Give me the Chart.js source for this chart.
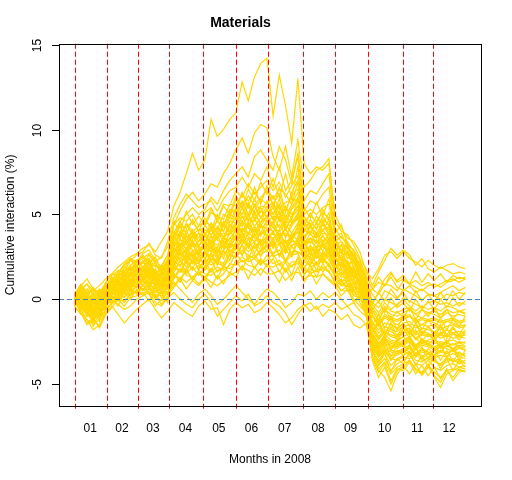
<!DOCTYPE html>
<html>
<head>
<meta charset="utf-8">
<script src="https://cdn.jsdelivr.net/npm/chart.js@4.4.1/dist/chart.umd.min.js"></script>
<style>
  html, body { margin: 0; padding: 0; background: #fff; }
  #wrap { width: 512px; height: 480px; }
</style>
</head>
<body>
<div id="wrap"><canvas id="chart" width="512" height="480"></canvas></div>
<script>
// trading-day index of each sample (every 4th session of 2008)
const days = [1,5,9,13,17,21,25,29,33,37,41,45,49,53,57,61,65,69,73,77,81,85,89,93,97,101,105,109,113,117,121,125,
  129,133,137,141,145,149,153,157,161,165,169,173,177,181,185,189,193,197,201,205,209,213,217,221,225,229,233,237,241,245,249,253];

// first session of each month (red dashed lines) and month label positions
const monthStarts = [1,22,42,62,84,105,126,148,169,190,213,232];
const monthMids = [11,31.5,51.5,72.5,94,115,136.5,158,179,201,222,242.5];
const monthLabels = ['01','02','03','04','05','06','07','08','09','10','11','12'];
const yTicks = [-5,0,5,10,15];

// cumulative interaction (%) per stock
const top1 = [0,0.6,0.9,0.5,0.8,1.2, 1.5,1.9,2.2,2.5,2.7, 3.0,3.2,2.8,3.4,4.0, 5.5,6.3,7.4,8.6,7.6, 8.2,10.6,9.6,10.0,10.6, 11.0,12.8,11.7,13.1,13.9,14.2, 10.8,13.2,11.4,9.2,13.0, 8.0,7.4,7.8,7.6,8.0, 5.0,4.2,3.6,3.4,2.8,1.6, 1.2,1.8,2.6,2.8,2.4, 2.8,2.4,2.2,1.9,2.3, 2.0,1.8,2.0,2.1,1.9,1.8];
const top2 = [0,0.3,0.1,-0.2,0.2,0.7, 1.0,1.4,1.6,2.0,2.3, 2.4,2.7,2.2,2.5,3.1, 4.4,5.2,5.9,6.3,5.8, 6.2,6.8,6.6,7.4,8.0, 8.8,9.5,8.6,9.8,10.3,10.1, 8.4,7.6,9.0,7.2,9.4, 6.6,7.0,7.6,7.8,8.3, 4.6,4.0,3.8,3.2,2.4,1.8, 0.8,1.6,2.3,3.0,2.6, 2.9,2.6,2.0,2.4,1.8, 1.6,1.9,1.7,1.5,1.6,1.5];
const top3 = [0,0.4,0.0,-0.3,0.1,0.5, 0.9,1.1,1.5,1.8,2.0, 2.2,2.4,1.9,2.0,2.6, 3.9,4.6,5.0,5.4,5.0, 5.3,6.0,5.6,6.4,7.0, 7.4,7.8,7.2,8.4,8.8,8.2, 7.6,9.0,8.2,6.8,8.6, 5.8,6.4,6.2,6.8,7.4, 4.2,3.6,3.4,2.8,2.0,1.2, -0.2,0.4,1.2,1.6,1.0, 1.2,0.9,1.1,0.8,1.0, 0.7,0.9,1.1,1.2,1.0,1.2];
const top4 = [0,0.8,1.2,0.6,0.4,0.9, 1.2,1.6,2.0,2.3,2.6, 2.8,3.3,2.6,2.4,3.4, 4.8,5.6,6.2,5.8,5.4, 5.6,5.8,5.2,5.9,6.4, 6.6,7.2,6.6,7.4,7.0,7.8, 6.6,7.8,6.4,7.0,8.4, 5.2,5.8,5.6,6.2,6.6, 3.8,3.4,3.0,2.6,1.8,1.4, 0.6,1.0,0.8,1.3,0.7, 0.5,0.8,0.4,0.6,0.3, 0.2,0.4,0.6,0.8,0.5,0.7];
const low1 = [0,-0.6,-1.2,-1.8,-1.5,-0.8, -0.4,-0.9,-1.4,-1.0,-0.6, -0.3,0.0,-0.6,-1.1,-0.7, -0.2,-0.5,-0.8,-1.0,-0.4, -0.1,-0.6,-0.5,-1.5,-0.6, -0.2,-0.5,-0.3,-0.8,-0.6,-0.2, -0.5,-0.9,-1.4,-1.1,-0.6, -0.3,-0.7,-0.4,-1.0,-0.6, -0.8,-1.2,-0.9,-1.5,-1.7,-1.4, -3.4,-4.2,-4.6,-5.4,-4.4, -4.0,-3.6,-4.2,-4.4,-3.8, -4.6,-5.2,-4.4,-4.2,-4.0,-4.1];
const low2 = [0,-0.3,-0.8,-1.4,-1.0,-0.4, 0.0,-0.3,-0.6,-0.4,0.0, 0.2,0.4,-0.2,-0.4,0.1, 0.4,0.0,-0.3,-0.5,0.0, 0.3,-0.2,-1.0,-0.6,-0.2, 0.2,-0.1,0.3,-0.4,-0.2,0.2, -0.2,-0.4,-0.8,-1.5,-0.9, -0.4,-0.2,-0.6,-0.3,-0.5, -0.2,-0.6,-0.4,-0.9,-1.1,-1.5, -2.8,-3.4,-3.0,-3.6,-3.2, -3.0,-3.3,-2.9,-3.5,-3.2, -3.6,-3.9,-3.4,-3.7,-3.5,-3.8];
const low3 = [0,-0.8,-1.5,-1.2,-1.6,-0.6, -0.2,0.2,-0.2,0.3,0.5, 0.6,0.3,-0.4,0.0,0.4, 1.0,0.6,0.2,-0.2,0.3, 0.6,0.2,-0.3,0.0,0.4, 0.8,0.4,0.0,-0.3,0.2,0.6, 0.4,0.0,-0.5,-0.2,0.3, 0.2,0.5,0.0,0.4,0.1, 0.4,0.0,-0.4,-0.2,-0.7,-1.0, -2.0,-2.6,-2.2,-2.9,-2.4, -2.2,-2.6,-2.8,-2.4,-2.7, -2.9,-3.1,-2.7,-3.0,-2.8,-3.0];
const mid01 = [0.3,0.9,0.4,0.5,0.3,1.0, 1.5,1.4,2.1,2.4,2.2, 2.7,2.9,2.3,1.9,2.6, 4.4,4.8,4.6,5.0,4.3, 5.1,5.4,4.7,5.6,5.5, 6.4,6.0,6.8,6.2,6.6,7.0, 6.4,6.9,6.0,6.7,7.3, 5.0,5.3,5.0,5.4,5.6, 3.7,3.9,3.0,2.7,2.0,1.2, -0.3,-0.8,-0.2,-0.6,-0.3, 0.0,-0.4,-0.7,-0.4,-0.6, -0.5,-0.7,-0.4,-0.5,-0.7,-0.6];
const mid02 = [0.2,0.4,0.6,-0.1,0.5,0.6, 1.4,1.7,1.6,2.3,2.0, 2.1,2.6,2.1,1.7,2.3, 3.7,4.4,4.2,4.6,4.0, 4.3,5.1,4.9,4.7,5.6, 5.5,6.2,5.8,6.3,5.7,6.6, 5.9,6.5,6.2,5.6,6.9, 4.6,4.9,4.6,5.1,4.8, 3.4,3.7,3.2,2.4,2.2,1.0, -1.0,-1.6,-1.1,-1.3,-1.5, -1.2,-1.0,-1.3,-1.5,-1.2, -1.4,-1.6,-1.3,-1.4,-1.6,-1.5];
const mid03 = [0.1,0.7,0.1,0.2,-0.1,0.8, 0.9,1.5,1.4,2.0,2.3, 1.9,2.4,1.5,1.9,1.8, 3.9,3.6,4.4,3.8,4.1, 3.9,4.2,4.6,4.3,5.2, 5.1,5.8,5.4,5.2,5.9,5.6, 6.1,5.3,5.7,5.9,5.8, 4.3,4.5,4.2,4.7,4.4, 3.6,2.9,2.9,2.1,1.6,0.6, -2.0,-2.6,-2.1,-2.4,-2.5, -2.2,-2.0,-2.3,-2.6,-2.4, -2.3,-2.7,-2.5,-2.4,-2.6,-2.5];
const mid04 = [0.3,0.2,0.4,-0.3,0.2,0.3, 1.1,1.0,1.6,1.5,2.0, 2.2,1.8,1.7,1.4,2.0, 3.1,3.8,3.6,3.9,3.4, 4.1,3.8,4.2,4.0,4.8, 4.7,5.4,4.9,5.5,4.8,5.2, 5.0,5.6,4.6,5.4,6.0, 4.0,4.3,3.9,4.4,4.1, 3.3,2.7,2.7,1.9,1.8,0.9, 0.3,-0.2,0.5,0.3,0.0, 0.6,0.4,0.2,-0.1,0.3, 0.2,0.0,0.3,0.2,0.4,0.3];
const mid05 = [-0.1,0.5,-0.2,0.0,-0.3,0.6, 0.7,1.3,1.1,1.8,1.6, 1.7,2.1,1.2,1.6,1.5, 3.4,3.1,3.3,3.7,3.2, 3.4,4.1,3.5,4.3,4.1, 4.5,5.1,4.7,4.6,5.2,4.9, 5.4,4.6,4.9,4.5,5.1, 3.7,4.0,3.7,4.1,4.3, 2.6,2.9,2.1,2.2,1.2,0.4, -2.5,-3.2,-2.7,-3.0,-3.1, -2.9,-2.7,-3.2,-2.9,-3.1, -3.3,-3.0,-3.2,-3.0,-3.3,-3.2];
const mid06 = [0.2,0.0,0.2,-0.5,0.1,0.2, 0.9,0.8,1.4,1.3,1.8, 1.9,1.6,1.5,1.1,1.7, 2.8,3.5,3.2,3.1,3.4, 3.7,3.4,3.2,3.6,4.3, 4.8,4.3,5.0,4.3,4.8,4.6, 4.5,4.9,4.1,4.8,5.3, 3.5,3.3,3.9,3.4,3.6, 2.9,2.4,2.3,1.6,1.4,0.2, -1.6,-2.2,-1.8,-1.9,-2.1, -1.8,-1.7,-2.1,-1.9,-2.0, -2.2,-2.0,-1.8,-2.0,-2.2,-2.1];
const mid07 = [-0.2,0.3,-0.4,-0.2,-0.4,0.4, 0.5,1.1,0.9,1.5,1.3, 1.4,1.8,1.0,1.3,1.2, 3.0,2.7,3.5,2.9,2.8, 3.0,3.7,3.5,3.3,3.6, 4.0,4.6,4.2,4.0,4.5,4.9, 4.2,4.0,4.4,3.9,4.5, 3.2,3.6,3.3,3.7,3.3, 2.2,2.6,1.8,1.9,0.9,0.0, -2.9,-3.7,-3.2,-3.9,-3.5, -3.3,-3.1,-3.6,-3.7,-3.4, -3.6,-3.9,-3.7,-3.5,-3.8,-3.7];
const mid08 = [0.1,-0.2,0.0,-0.7,-0.1,0.0, 0.7,0.6,1.2,1.0,1.5, 1.3,1.6,1.3,0.9,1.4, 2.4,3.1,2.8,3.2,2.6, 3.3,3.0,2.8,3.6,3.4, 3.8,4.2,3.9,4.3,3.8,4.1, 4.5,3.7,4.1,3.6,4.2, 3.0,2.9,3.1,3.5,3.1, 2.5,2.0,2.0,1.3,1.1,0.5, -0.7,-1.2,-0.6,-0.9,-1.0, -0.8,-0.6,-0.9,-1.1,-0.8, -0.9,-1.1,-0.8,-1.0,-0.9,-1.0];
const mid09 = [0.0,0.2,-0.5,-0.4,-0.6,0.3, 0.4,0.9,0.7,1.2,1.1, 1.5,1.2,0.8,1.1,1.0, 2.6,2.4,3.0,2.5,2.8, 2.6,3.2,2.5,2.9,3.6, 3.5,3.9,3.7,3.4,3.9,3.8, 3.6,3.9,3.3,3.8,3.9, 2.8,3.1,2.8,3.2,2.9, 1.9,2.2,1.5,1.6,0.6,0.3, -2.2,-2.8,-2.4,-2.6,-2.7, -2.5,-2.3,-2.8,-2.5,-2.6, -2.8,-2.6,-2.7,-2.9,-2.7,-2.8];
const mid10 = [-0.3,-0.3,-0.2,-0.9,-0.3,-0.1, 0.6,0.4,1.0,0.8,1.3, 1.1,1.4,1.0,0.7,1.2, 2.0,2.7,2.4,2.7,2.2, 2.8,2.5,2.8,2.6,3.0, 3.7,3.2,3.9,3.6,3.2,3.5, 3.9,3.2,3.5,3.1,3.6, 2.6,2.5,3.0,2.6,3.1, 2.1,1.7,1.6,1.0,0.8,-0.2, -1.3,-1.8,-1.4,-1.5,-1.7, -1.4,-1.3,-1.7,-1.5,-1.6, -1.5,-1.8,-1.6,-1.5,-1.7,-1.6];
const mid11 = [0.1,0.1,-0.7,-0.6,-0.8,0.1, 0.2,0.7,0.5,1.0,0.9, 1.3,0.9,0.6,0.9,0.8, 2.2,2.0,2.6,2.1,2.4, 2.1,2.7,2.1,2.8,2.7, 3.0,3.4,3.1,3.4,2.9,3.6, 3.1,3.3,2.7,3.2,3.3, 2.4,2.7,2.4,2.7,2.5, 1.5,1.8,1.1,1.2,0.3,-0.4, -3.1,-3.9,-3.5,-4.2,-3.8, -3.6,-3.3,-3.8,-3.9,-3.6, -4.0,-4.2,-3.9,-3.8,-4.0,-3.9];
const mid12 = [-0.2,-0.5,-0.4,-1.1,-0.5,-0.3, 0.4,0.2,0.8,0.6,1.1, 0.8,1.2,0.8,0.5,1.0, 1.6,2.3,1.9,2.3,1.8, 2.4,2.0,2.3,2.1,2.9, 2.7,3.2,2.8,3.1,2.6,2.9, 3.3,2.6,2.9,2.5,3.4, 2.2,2.0,2.6,2.1,2.7, 1.7,1.3,1.3,0.7,0.6,-0.1, -1.8,-2.4,-1.9,-2.2,-2.3, -2.0,-1.9,-2.4,-2.1,-2.2, -2.0,-2.3,-2.1,-2.3,-2.2,-2.3];
const mid13 = [-0.4,-0.1,-0.9,-0.8,-1.0,-0.1, 0.0,0.5,0.3,0.8,0.7, 1.1,0.7,0.4,0.7,0.6, 1.9,1.6,2.2,1.7,2.0, 1.7,2.3,1.6,1.9,2.6, 2.5,2.9,2.6,2.4,2.8,3.1, 2.5,2.7,2.2,2.6,2.7, 1.9,2.2,2.0,2.3,2.0, 1.5,1.1,1.1,0.5,0.4,-0.2, -0.2,-0.5,0.0,-0.2,-0.4, 0.1,-0.1,-0.3,-0.5,-0.2, -0.1,-0.3,-0.2,-0.4,-0.2,-0.3];
const mid14 = [0.0,-0.6,-0.6,-1.3,-0.7,-0.5, 0.2,0.0,0.6,0.3,0.9, 0.6,0.9,0.5,0.2,0.7, 1.3,1.8,1.5,1.9,1.4, 1.9,1.6,1.9,1.7,2.0, 2.7,2.2,2.4,2.6,2.1,2.3, 2.7,2.0,2.3,1.9,2.4, 1.7,1.6,2.2,1.6,2.1, 1.3,0.9,0.9,0.4,0.2,-0.7, -2.3,-3.0,-2.6,-2.8,-2.9, -2.7,-2.5,-3.0,-2.7,-2.8, -3.0,-2.8,-2.9,-3.1,-2.9,-3.0];
const mid15 = [-0.3,-0.2,-1.0,-0.9,-1.1,-0.2, -0.2,0.3,0.1,0.5,0.4, 0.8,0.4,0.1,0.4,0.3, 1.5,1.2,1.7,1.2,1.6, 1.3,1.8,1.2,1.5,2.1, 2.0,2.3,2.0,1.9,2.3,2.0, 1.9,2.1,1.6,2.0,2.1, 1.5,1.8,1.6,1.8,1.6, 1.1,0.8,0.8,0.2,0.1,-0.5, -1.4,-2.0,-1.6,-1.8,-1.9, -1.6,-1.5,-2.0,-1.7,-1.8, -1.9,-2.1,-1.8,-2.0,-1.9,-2.0];
const mid16 = [-0.5,-0.8,-1.2,-1.5,-1.2,-0.6, -0.3,0.1,-0.1,0.3,0.5, 0.3,0.6,0.2,-0.1,0.4, 0.8,1.3,1.0,1.3,0.9, 1.3,1.0,0.8,1.1,1.4, 1.6,1.9,1.7,1.4,1.8,1.5, 1.5,1.7,1.1,1.5,1.6, 1.2,1.4,1.3,1.5,1.2, 0.9,0.5,0.5,0.0,-0.4,-0.8, -2.7,-3.4,-3.0,-3.3,-3.3, -3.1,-2.9,-3.4,-3.1,-3.2, -3.5,-3.3,-3.4,-3.2,-3.4,-3.5];
const mid17 = [0.4,0.3,0.6,0.3,0.0,0.9, 1.0,1.2,1.9,1.7,2.3, 2.5,2.0,2.0,1.6,2.2, 4.0,3.7,4.5,4.0,4.3, 4.6,4.3,4.1,5.0,4.8, 5.9,5.3,6.1,5.5,6.0,6.4, 5.6,6.2,5.2,6.1,6.5, 4.9,4.2,4.9,4.4,5.1, 3.2,3.4,2.6,2.6,1.7,1.3, -1.7,-2.3,-1.9,-2.1,-2.2, -1.9,-1.8,-2.3,-2.0,-2.1, -2.3,-2.1,-2.2,-2.0,-2.2,-2.1];
const mid18 = [0.0,0.6,0.0,0.1,0.3,0.4, 1.2,1.1,1.3,1.9,1.8, 1.8,2.3,1.4,1.8,1.6, 3.3,4.0,3.7,3.6,3.9, 3.7,4.5,3.9,4.6,4.5, 5.4,5.0,5.7,5.0,5.5,5.4, 5.7,5.0,5.4,5.0,5.5, 4.6,3.9,4.5,4.0,4.7, 2.9,3.2,2.4,2.4,1.4,0.7, -0.5,-1.0,-0.4,-0.7,-0.8, -0.6,-0.5,-0.9,-0.6,-0.8, -0.7,-0.9,-0.6,-0.8,-0.7,-0.8];
const mid19 = [0.2,0.1,-0.2,-0.1,0.1,0.2, 0.6,1.2,1.1,1.4,1.9, 1.6,1.7,1.6,1.3,1.9, 3.3,3.0,3.8,3.3,3.1, 3.8,3.6,3.9,3.7,3.9, 4.4,4.9,4.6,5.0,4.5,5.3, 4.7,5.1,4.3,4.4,4.9, 4.1,3.8,3.6,3.9,3.8, 2.5,2.8,2.0,1.7,1.5,0.8, -2.1,-2.7,-2.3,-2.5,-2.6, -2.4,-2.2,-2.7,-2.4,-2.5, -2.6,-2.5,-2.6,-2.7,-2.5,-2.6];
const mid20 = [-0.1,0.4,0.1,-0.5,-0.2,0.5, 0.8,0.8,1.0,1.6,1.4, 1.9,1.5,1.1,1.5,1.3, 2.7,3.3,3.0,3.4,3.0, 3.1,3.3,3.6,3.9,3.8, 4.2,4.1,4.4,4.7,4.2,4.5, 4.9,4.2,4.5,4.6,4.7, 3.4,3.6,3.4,3.3,3.9, 2.7,2.3,2.2,1.5,1.0,0.3, -0.9,-1.4,-0.9,-1.1,-1.2, -1.0,-0.9,-1.3,-1.1,-1.2, -1.1,-1.3,-1.2,-1.1,-1.3,-1.2];
const mid21 = [0.3,-0.1,-0.3,-0.3,-0.5,0.1, 0.5,1.0,0.9,1.1,1.6, 1.4,1.4,1.3,1.0,1.5, 2.9,2.6,2.9,3.3,3.1, 2.9,3.5,2.9,3.2,3.9, 4.4,3.9,4.6,3.9,4.3,4.2, 4.0,4.4,3.7,4.3,4.8, 3.2,3.4,3.1,3.2,3.4, 2.2,2.4,1.7,1.4,1.2,0.1, -2.6,-3.3,-2.9,-3.1,-3.2, -3.0,-2.8,-3.3,-3.0,-3.1, -3.4,-3.1,-3.2,-3.0,-3.2,-3.3];
const mid22 = [-0.2,0.3,0.0,-0.8,-0.2,0.3, 0.3,0.6,1.1,0.9,1.2, 1.7,1.6,0.9,1.2,1.1, 2.3,2.9,2.7,2.6,2.9, 3.1,2.8,3.1,3.4,3.2, 3.6,4.1,3.8,4.1,3.7,4.4, 4.3,3.6,3.9,3.5,4.0, 3.4,2.8,3.0,3.3,3.0, 2.4,1.9,1.9,1.2,0.7,0.4, 0.6,0.3,0.9,0.8,0.5, 1.1,0.9,0.7,0.5,0.8, 0.9,0.7,1.0,1.1,1.3,1.2];
const mid23 = [0.1,-0.3,-0.1,-0.8,-0.2,-0.1, 0.6,0.5,0.6,1.2,1.0, 1.2,1.5,1.1,0.8,0.9, 2.5,2.3,2.5,2.8,2.7, 2.4,2.7,2.9,3.2,3.0, 3.3,3.8,3.5,3.8,3.4,3.6, 4.0,3.4,3.1,3.7,4.2, 2.7,3.0,2.7,3.1,2.8, 1.8,2.1,1.3,1.4,0.9,-0.1, -2.2,-2.9,-2.5,-2.7,-2.8, -2.6,-2.4,-2.9,-2.6,-2.7, -2.9,-2.7,-2.8,-2.6,-2.8,-2.9];
const mid24 = [-0.3,0.1,-0.6,-0.5,-0.7,0.2, 0.2,0.7,0.9,0.7,1.3, 1.0,1.0,0.9,0.6,1.2, 1.9,2.5,2.2,2.6,2.1, 2.7,2.4,2.2,2.9,3.3, 3.1,3.5,3.3,3.0,3.5,3.3, 3.2,3.5,2.9,3.4,3.4, 2.9,2.3,2.9,2.4,3.0, 2.0,1.5,1.5,0.9,0.5,-0.3, -3.3,-4.1,-3.7,-4.4,-4.0, -3.8,-3.6,-4.1,-4.3,-3.9, -4.3,-4.6,-4.2,-4.1,-4.2,-4.2];
const mid25 = [0.0,-0.4,-0.8,-0.7,-0.9,-0.3, 0.1,0.2,0.7,0.5,0.7, 1.1,0.8,0.7,0.4,0.9, 1.9,1.7,1.8,2.2,2.1, 1.8,2.4,2.1,2.0,2.3, 3.1,2.6,3.2,2.5,2.9,3.2, 2.7,2.9,2.3,2.8,2.8, 2.5,1.9,2.1,2.4,2.1, 1.3,1.6,0.9,0.9,0.1,-0.6, -1.0,-1.5,-1.0,-1.2,-1.3, -1.1,-1.0,-1.4,-1.2,-1.3, -1.2,-1.4,-1.3,-1.2,-1.4,-1.3];
const mid26 = [-0.4,-0.1,-0.6,-1.3,-0.7,-0.1, 0.2,-0.1,0.4,0.2,0.5, 0.5,0.8,0.2,0.5,0.4, 1.2,1.7,1.4,1.3,1.7, 1.5,1.4,1.7,1.9,1.8, 2.1,2.5,2.2,2.4,2.0,2.6, 2.1,2.3,1.7,2.2,2.2, 1.9,1.5,1.7,1.9,1.7, 0.9,1.2,0.5,0.6,-0.2,-0.9, -3.1,-3.6,-3.1,-3.5,-3.6, -3.4,-3.5,-3.2,-3.6,-3.5, -3.7,-3.8,-3.5,-3.6,-3.7,-3.6];
const mid27 = [0.2,0.8,0.3,0.6,-0.1,0.7, 1.3,0.9,1.8,2.4,1.9, 2.6,2.1,2.5,1.7,2.4, 4.6,3.9,5.2,4.4,4.9, 4.4,5.3,4.6,5.5,5.0, 6.1,5.4,6.5,5.8,6.9,6.2, 7.1,6.0,7.4,5.9,7.8, 5.4,4.8,5.7,4.9,5.9, 3.9,4.4,3.2,2.9,2.3,1.4, -2.3,-3.1,-2.5,-3.4,-2.7, -2.6,-3.2,-2.8,-3.5,-2.9, -3.3,-2.7,-3.4,-2.9,-3.6,-3.0];
const mid28 = [-0.2,0.5,0.9,0.2,0.6,0.1, 0.7,1.4,1.0,1.6,2.2, 1.6,2.3,1.3,2.0,1.5, 3.5,4.3,3.4,4.1,3.6, 4.4,3.7,4.7,4.0,5.0, 4.8,5.7,5.0,5.9,5.1,5.8, 5.0,5.9,4.8,5.6,6.3, 4.0,4.7,4.1,4.9,4.3, 3.4,2.7,3.1,2.2,1.9,0.8, -1.5,-0.9,-1.7,-1.0,-1.8, -0.9,-1.6,-1.1,-1.8,-1.2, -1.7,-1.1,-1.8,-1.2,-1.6,-1.0];
const mid29 = [0.1,-0.4,0.2,-0.6,0.3,-0.1, 0.9,0.5,1.5,1.0,1.9, 1.4,2.1,1.1,1.7,1.2, 3.8,3.0,4.1,3.3,3.9, 3.2,4.3,3.5,4.5,3.9, 5.3,4.5,5.6,4.7,5.4,4.8, 5.7,4.6,5.5,4.7,5.9, 3.6,4.4,3.8,4.6,3.9, 3.1,2.4,2.8,1.8,1.5,0.1, -2.8,-3.9,-3.2,-4.3,-3.5, -3.8,-3.1,-3.9,-3.3,-4.0, -3.4,-4.1,-3.5,-4.2,-3.6,-4.0];
const mid30 = [-0.3,0.2,-0.6,0.1,-0.4,0.4, 0.4,1.0,0.6,1.4,1.1, 1.8,1.2,1.6,0.9,1.6, 2.7,3.6,2.9,3.8,3.1, 3.8,3.1,4.0,3.4,4.4, 4.0,4.9,4.2,5.2,4.3,4.9, 4.4,5.2,4.1,4.9,5.5, 3.2,3.9,3.3,4.1,3.5, 2.4,2.9,2.0,2.3,1.2,0.6, -0.6,-0.1,-0.8,0.1,-0.5, -0.2,-0.7,0.0,-0.6,-0.1, -0.6,0.0,-0.5,0.1,-0.4,-0.1];
const mid31 = [0.4,0.0,-0.5,0.0,-0.6,0.0, 0.8,0.4,1.3,0.8,1.7, 1.1,1.9,1.4,0.8,1.4, 2.4,3.3,2.6,3.5,2.7, 3.5,2.8,3.8,3.0,4.0, 3.6,4.6,3.8,4.8,3.9,4.7, 3.9,4.8,3.6,4.5,5.0, 2.9,3.6,3.0,3.8,3.2, 2.6,1.8,2.2,1.2,1.5,-0.1, -2.0,-1.4,-2.4,-1.6,-2.5, -1.7,-2.3,-1.8,-2.5,-2.0, -2.5,-1.9,-2.6,-2.0,-2.4,-1.9];
const mid32 = [-0.1,-0.6,0.1,-1.0,-0.2,-0.4, 0.5,0.1,0.9,0.5,1.2, 1.5,0.9,1.2,0.6,1.0, 2.2,3.0,2.3,3.3,2.5, 2.7,3.4,2.6,3.7,3.1, 4.3,3.4,4.5,3.6,4.4,3.7, 4.6,3.5,4.2,3.4,4.4, 3.4,2.6,3.5,2.8,3.6, 1.9,2.4,1.5,1.8,0.6,-0.3, -3.6,-4.6,-4.0,-5.0,-4.2, -3.9,-4.4,-3.8,-4.5,-4.0, -4.5,-4.9,-4.2,-4.6,-4.1,-4.3];
const mid33 = [0.2,0.5,-0.2,-0.9,0.0,0.5, 0.2,0.9,0.4,1.1,0.7, 1.2,0.6,1.4,0.7,1.3, 2.3,1.9,2.8,2.1,3.0, 2.4,3.1,2.3,3.3,2.8, 3.2,4.0,3.1,4.2,3.3,4.1, 3.3,4.1,3.0,3.9,3.4, 2.4,3.2,2.5,3.3,2.6, 2.1,1.4,1.8,0.9,1.1,-0.4, -0.6,-1.3,-0.5,-1.2,-0.7, -1.1,-0.5,-1.2,-0.6,-1.0, -0.5,-1.1,-0.6,-1.2,-0.7,-0.9];
const mid34 = [-0.2,-0.7,-0.3,-1.2,-0.5,-0.6, 0.5,-0.1,0.8,0.2,0.9, 0.5,1.1,0.4,0.9,0.3, 2.1,1.6,2.4,1.8,2.6, 1.9,2.7,2.0,2.9,2.3, 3.4,2.6,3.6,2.7,3.5,2.8, 3.6,2.5,3.4,2.6,3.7, 2.2,2.9,2.0,2.8,2.3, 1.7,1.0,1.4,0.5,0.8,-0.6, -2.6,-3.4,-2.8,-3.6,-3.0, -3.3,-2.7,-3.4,-2.8,-3.5, -2.9,-3.6,-3.0,-3.7,-3.1,-3.4];
const mid35 = [0.3,-0.3,-1.0,-0.5,-1.3,-0.2, -0.1,0.6,0.1,0.7,0.3, 0.9,0.3,0.7,0.1,0.8, 1.6,2.3,1.5,2.5,1.7, 2.3,1.6,2.5,1.8,2.7, 2.4,3.2,2.3,3.3,2.5,3.4, 2.6,3.3,2.2,3.1,2.7, 1.8,2.5,1.7,2.6,1.9, 1.4,0.8,1.1,0.2,0.5,-0.8, -1.9,-1.2,-2.1,-1.4,-2.2, -1.5,-2.1,-1.4,-2.0,-1.6, -2.2,-1.6,-2.3,-1.7,-2.1,-1.5];
const mid36 = [-0.4,-0.9,-0.5,-1.6,-0.8,-0.3, 0.1,-0.4,0.4,0.0,0.6, 0.2,0.7,0.0,0.4,-0.2, 1.5,1.0,1.8,1.1,1.6, 1.1,1.8,1.2,2.0,1.5, 2.3,1.7,2.6,1.8,2.4,1.9, 2.4,1.6,2.2,1.4,2.5, 1.4,2.0,1.3,2.1,1.6, 1.1,0.5,0.8,-0.1,0.2,-1.0, -2.4,-2.9,-2.2,-3.0,-2.5, -2.8,-2.2,-2.9,-2.3,-2.7, -2.3,-2.9,-2.4,-3.0,-2.5,-2.8];
const mid37 = [0.0,-0.8,-1.4,-1.1,-1.7,-0.9, -0.5,0.0,-0.4,0.1,0.2, 0.4,-0.1,0.3,-0.3,0.2, 0.7,1.2,0.6,1.1,0.8, 1.2,0.7,1.4,0.9,1.6, 1.3,2.0,1.2,1.9,1.4,2.1, 1.6,1.0,1.8,1.1,1.9, 1.0,1.6,0.9,1.5,1.1, 0.8,0.2,0.6,-0.2,0.1,-0.6, -0.3,0.4,-0.1,0.6,0.1, 0.4,-0.2,0.5,-0.1,0.3, -0.2,0.4,-0.1,0.5,0.0,0.4];
const mid38 = [0.1,0.6,0.2,0.7,0.1,0.6, 1.1,1.6,1.2,1.9,1.6, 2.3,1.7,2.2,1.5,2.1, 3.6,4.6,3.8,4.7,4.0, 4.8,4.1,5.0,4.3,5.3, 5.2,6.3,5.4,6.6,5.6,6.7, 5.4,6.6,5.1,6.3,7.0, 4.3,5.1,4.4,5.3,4.6, 3.5,2.8,3.3,2.4,2.0,1.1, -1.9,-1.3,-2.1,-1.4,-1.8, -1.4,-2.0,-1.5,-2.1,-1.6, -2.0,-1.5,-2.1,-1.6,-2.2,-1.8];
const mid39 = [0.0,0.3,-0.3,0.4,-0.4,0.3, 0.9,0.6,1.4,1.1,1.6, 1.9,1.3,1.8,1.0,1.7, 3.0,3.9,3.2,4.0,3.4, 3.9,3.3,4.3,3.6,4.6, 4.5,5.4,4.7,5.6,4.8,5.5, 4.7,5.5,4.4,5.3,5.8, 3.5,4.3,3.6,4.4,3.8, 2.8,3.2,2.4,2.6,1.4,0.5, -3.5,-4.3,-3.8,-4.8,-4.1, -4.2,-3.7,-4.4,-3.9,-4.5, -4.0,-4.7,-4.1,-4.8,-4.3,-4.2];
const mid40 = [-0.1,0.4,-0.1,-0.7,0.2,0.1, 0.6,0.3,1.1,0.6,1.3, 0.8,1.4,0.7,1.2,0.6, 2.0,2.8,2.1,2.9,2.2, 2.9,2.2,3.1,2.4,3.3, 2.9,3.7,3.0,3.9,3.1,3.8, 3.0,3.8,2.8,3.6,3.1, 2.7,2.1,2.8,2.2,2.9, 1.8,2.2,1.2,1.6,0.9,0.2, 0.6,1.3,0.8,1.5,1.1, 1.4,0.9,1.6,1.0,1.5, 1.1,1.5,1.0,1.4,1.2,1.3];

const allSeries = [top1, top2, top3, top4, low1, low2, low3,
  mid01, mid02, mid03, mid04, mid05, mid06, mid07, mid08, mid09, mid10,
  mid11, mid12, mid13, mid14, mid15, mid16, mid17, mid18, mid19, mid20,
  mid21, mid22, mid23, mid24, mid25, mid26, mid27, mid28, mid29, mid30,
  mid31, mid32, mid33, mid34, mid35, mid36, mid37, mid38, mid39, mid40];

Chart.defaults.font.family = '"Liberation Sans", Arial, sans-serif';
Chart.defaults.font.size = 12;
Chart.defaults.color = '#000';

// month lines, zero line, box and rotated y labels, R style
const rFrame = {
  id: 'rFrame',
  afterDatasetsDraw(chart) {
    const { ctx, chartArea: a, scales: { x, y } } = chart;
    ctx.save();
    ctx.lineWidth = 1;
    ctx.setLineDash([5, 3]);
    ctx.strokeStyle = '#FF0000';
    monthStarts.forEach(d => {
      const px = Math.round(x.getPixelForValue(d)) + 0.5;
      ctx.beginPath();
      ctx.moveTo(px, a.top);
      ctx.lineTo(px, a.bottom + 4);
      ctx.stroke();
    });
    const y0 = Math.round(y.getPixelForValue(0)) + 0.5;
    ctx.strokeStyle = '#4682B4';
    ctx.beginPath();
    ctx.moveTo(a.left, y0);
    ctx.lineTo(a.right, y0);
    ctx.stroke();
    ctx.restore();
  },
  afterDraw(chart) {
    const { ctx, chartArea: a, scales: { y } } = chart;
    ctx.save();
    ctx.strokeStyle = '#000';
    ctx.lineWidth = 1;
    ctx.strokeRect(Math.round(a.left) + 0.5, Math.round(a.top) + 0.5,
      Math.round(a.right - a.left), Math.round(a.bottom - a.top));
    ctx.fillStyle = '#000';
    ctx.font = '12px "Liberation Sans", Arial, sans-serif';
    ctx.textAlign = 'center';
    ctx.textBaseline = 'middle';
    yTicks.forEach(v => {
      const py = Math.round(y.getPixelForValue(v)) + 0.5;
      ctx.beginPath();
      ctx.moveTo(a.left - 7, py);
      ctx.lineTo(a.left, py);
      ctx.stroke();
      ctx.save();
      ctx.translate(a.left - 21, py);
      ctx.rotate(-Math.PI / 2);
      ctx.fillText(String(v), 0, 0);
      ctx.restore();
    });
    ctx.restore();
  }
};

new Chart(document.getElementById('chart'), {
  type: 'line',
  data: {
    datasets: allSeries.map(s => ({
      data: days.map((d, i) => ({ x: d, y: s[i] })),
      borderColor: '#FFD700',
      borderWidth: 1.2,
      pointRadius: 0,
      tension: 0,
      fill: false
    }))
  },
  options: {
    responsive: false,
    animation: false,
    events: [],
    layout: { padding: { right: 31 } },
    plugins: {
      legend: { display: false },
      tooltip: { enabled: false },
      title: {
        display: true,
        text: 'Materials',
        font: { size: 14, weight: 'bold' },
        color: '#000',
        padding: { top: 15, bottom: 12 }
      }
    },
    scales: {
      x: {
        type: 'linear',
        min: -9.1,
        max: 263.1,
        grid: { display: false },
        border: { display: false },
        afterBuildTicks: s => { s.ticks = monthMids.map(v => ({ value: v })); },
        afterFit: s => { s.height = 74; },
        ticks: {
          autoSkip: false,
          maxRotation: 0,
          padding: 7,
          callback: (v, i) => monthLabels[i]
        },
        title: { display: true, text: 'Months in 2008', padding: { top: 4, bottom: 13 } }
      },
      y: {
        type: 'linear',
        min: -6.29,
        max: 15.05,
        grid: { display: false },
        border: { display: false },
        ticks: { display: false },
        afterFit: s => { s.width = 59; },
        title: { display: true, text: 'Cumulative interaction (%)', padding: { top: 3, bottom: 4 } }
      }
    }
  },
  plugins: [rFrame]
});
</script>
</body>
</html>
